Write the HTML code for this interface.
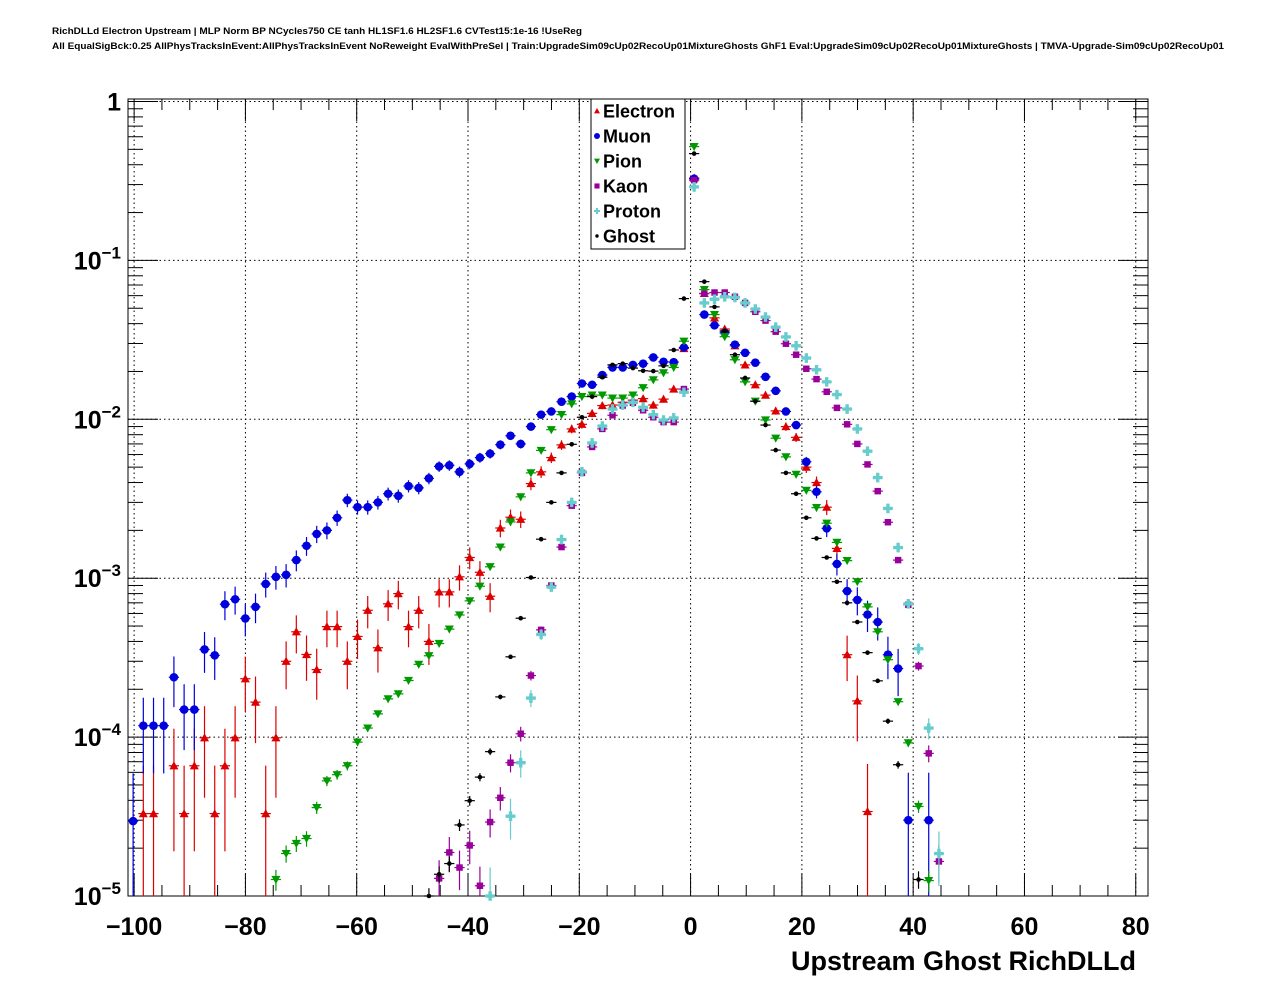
<!DOCTYPE html>
<html><head><meta charset="utf-8"><style>
html,body{margin:0;padding:0;background:#fff;}
svg{display:block;font-family:"Liberation Sans",sans-serif;}
</style></head><body>
<svg id="chart" width="1276" height="996" viewBox="0 0 1276 996" xmlns="http://www.w3.org/2000/svg">
<rect x="0" y="0" width="1276" height="996" fill="#fff"/>
<text x="52" y="34" font-size="9" font-weight="bold" textLength="530" lengthAdjust="spacingAndGlyphs">RichDLLd Electron Upstream | MLP Norm BP NCycles750 CE tanh HL1SF1.6 HL2SF1.6 CVTest15:1e-16 !UseReg</text>
<text x="52" y="49" font-size="9" font-weight="bold" textLength="1172" lengthAdjust="spacingAndGlyphs">All EqualSigBck:0.25 AllPhysTracksInEvent:AllPhysTracksInEvent NoReweight EvalWithPreSel | Train:UpgradeSim09cUp02RecoUp01MixtureGhosts GhF1 Eval:UpgradeSim09cUp02RecoUp01MixtureGhosts | TMVA-Upgrade-Sim09cUp02RecoUp01</text>
<g id="grid"></g>
<g id="axes"></g>
<g id="series"></g>
<g id="legend"></g>
<text x="1136" y="970" font-size="27" font-weight="bold" text-anchor="end">Upstream Ghost RichDLLd</text>
</svg>
<script>
// ---- data ----
const binStart = -100.18;
const binStep = 1.833;
const xTicks = [-100, -80, -60, -40, -20, 0, 20, 40, 60, 80];
const xTickLabels = ["\u2212100", "\u221280", "\u221260", "\u221240", "\u221220", "0", "20", "40", "60", "80"];
const yExponents = [0, -1, -2, -3, -4, -5];
const seriesNames = ["Electron", "Muon", "Pion", "Kaon", "Proton", "Ghost"];

const electronStart = 1;
const electronVals = [3.3e-5,3.3e-5,null,6.6e-5,3.3e-5,6.6e-5,9.9e-5,3.3e-5,6.6e-5,9.9e-5,2.33e-4,1.66e-4,3.3e-5,9.9e-5,3.0e-4,4.6e-4,3.31e-4,2.66e-4,4.96e-4,4.96e-4,3.0e-4,4.3e-4,6.28e-4,3.65e-4,6.9e-4,8.0e-4,4.96e-4,6.28e-4,4.0e-4,8.2e-4,8.2e-4,1.02e-3,1.35e-3,1.09e-3,7.7e-4,2.07e-3,2.42e-3,2.35e-3,3.94e-3,4.67e-3,5.74e-3,6.9e-3,8.7e-3,9.3e-3,0.0109,0.0122,0.0123,0.0128,0.0132,0.0135,0.0123,0.0134,0.0155,0.0279,0.33,0.062,0.0435,0.037,0.029,0.022,0.0165,0.0142,0.0113,0.009,0.0077,0.005,0.004,0.0028,0.00154,3.3e-4,1.69e-4,3.4e-5];
const muonStart = 0;
const muonVals = [2.96e-5,1.18e-4,1.18e-4,1.18e-4,2.38e-4,1.49e-4,1.49e-4,3.56e-4,3.27e-4,6.86e-4,7.37e-4,5.58e-4,6.6e-4,9.2e-4,1.02e-3,1.05e-3,1.3e-3,1.6e-3,1.9e-3,2.0e-3,2.4e-3,3.1e-3,2.8e-3,2.8e-3,3.0e-3,3.4e-3,3.3e-3,3.8e-3,3.7e-3,4.25e-3,5.05e-3,5.13e-3,4.67e-3,5.24e-3,5.74e-3,6.08e-3,6.92e-3,7.88e-3,7.0e-3,9.0e-3,0.0107,0.0112,0.0129,0.0139,0.0168,0.0165,0.019,0.0212,0.0212,0.022,0.0224,0.0245,0.023,0.0229,0.0283,0.327,0.0456,0.039,0.035,0.0295,0.0262,0.0227,0.0185,0.0151,0.0112,0.0092,0.0054,0.0035,0.00206,0.00123,8.3e-4,7.3e-4,5.9e-4,5.3e-4,3.3e-4,2.7e-4,3.0e-5,null,3.0e-5];
const pionStart = 14;
const pionVals = [1.27e-5,1.85e-5,2.14e-5,2.3e-5,3.6e-5,5.3e-5,5.8e-5,6.6e-5,9.3e-5,1.14e-4,1.4e-4,1.74e-4,1.87e-4,2.27e-4,2.87e-4,3.25e-4,3.88e-4,4.78e-4,5.87e-4,7.2e-4,8.9e-4,1.18e-3,1.57e-3,2.26e-3,3.25e-3,4.6e-3,6.37e-3,8.6e-3,0.0107,0.0125,0.0139,0.0142,0.0142,0.0136,0.0136,0.0142,0.0158,0.0177,0.0196,0.0212,0.031,0.52,0.0655,0.0456,0.0331,0.0237,0.0172,0.013,0.0099,0.0076,0.0058,0.0045,0.00357,0.00278,0.00222,0.00168,0.00129,9.5e-4,6.6e-4,4.6e-4,3.07e-4,1.67e-4,9.2e-5,3.66e-5,1.25e-5];
const kaonStart = 30;
const kaonVals = [1.29e-5,1.88e-5,1.51e-5,2.08e-5,1.16e-5,2.92e-5,4.15e-5,6.9e-5,1.05e-4,2.44e-4,4.73e-4,9e-4,1.57e-3,2.86e-3,4.6e-3,6.7e-3,8.7e-3,0.0106,0.0122,0.0127,0.0114,0.0103,0.0096,0.0096,0.0155,0.32,0.0617,0.0628,0.0628,0.059,0.054,0.0475,0.0418,0.0356,0.0299,0.0255,0.0208,0.0179,0.0149,0.0118,0.0093,0.007,0.0052,0.00353,0.00225,0.0013,6.8e-4,2.8e-4,7.9e-5,1.65e-5];
const protonStart = 35;
const protonVals = [1.0e-5,null,3.18e-5,6.9e-5,1.76e-4,4.43e-4,8.8e-4,1.75e-3,3.0e-3,4.67e-3,7.1e-3,9.06e-3,0.0116,0.0123,0.0128,0.0119,0.0107,0.0099,0.0102,0.0148,0.29,0.054,0.057,0.059,0.0585,0.054,0.0494,0.044,0.038,0.033,0.029,0.0243,0.0205,0.0172,0.0143,0.0116,0.0087,0.0063,0.0043,0.00275,0.00156,6.9e-4,3.6e-4,1.14e-4,1.85e-5];
const ghostStart = 29;
const ghostVals = [9.8e-6,1.37e-5,1.6e-5,2.8e-5,3.98e-5,5.6e-5,8.1e-5,1.79e-4,3.2e-4,5.6e-4,1.01e-3,1.76e-3,3.0e-3,4.6e-3,6.96e-3,0.0103,0.0139,0.0184,0.022,0.0224,0.021,0.0202,0.0201,0.0217,0.0273,0.0575,0.47,0.0735,0.051,0.036,0.0255,0.0182,0.013,0.0092,0.0064,0.0046,0.0034,0.0024,0.00178,0.00135,9.5e-4,7e-4,5.3e-4,3.4e-4,2.26e-4,1.26e-4,6.7e-5,null,1.27e-5];
// effective entries per series (for Poisson error bars)
const seriesEntries = [30000, 34000, 3.5e6, 8.5e5, 3.8e5, 5e6];

// ---- axes ----
const NS = "http://www.w3.org/2000/svg";
const FL = 128, FR = 1148, FT = 99, FB = 896;
const XMIN = -101.1, XMAX = 82.2;
const DEC = 158.9, Y1 = 101.5;
function xPx(v){ return FL + (v - XMIN) / (XMAX - XMIN) * (FR - FL); }
function yPx(v){ return Y1 - Math.log10(v) * DEC; }
function mk(tag, attrs, parent){ const e = document.createElementNS(NS, tag); for (const k in attrs) e.setAttribute(k, attrs[k]); parent.appendChild(e); return e; }

const grid = document.getElementById('grid');
const axes = document.getElementById('axes');
const seriesG = document.getElementById('series');
const legend = document.getElementById('legend');

xTicks.forEach(t => {
  const X = xPx(t);
  if (X > FL + 1 && X < FR - 1) {
    const l = mk('line', {x1:X, x2:X, y1:FT, y2:FB, stroke:'#000', 'stroke-width':1, 'stroke-dasharray':'1.5,3'}, grid);
    
    
  }
});
yExponents.forEach(e => {
  const Y = yPx(Math.pow(10, e));
  if (Y > FT + 1 && Y < FB - 1) {
    const l = mk('line', {x1:FL, x2:FR, y1:Y, y2:Y, stroke:'#000', 'stroke-width':1, 'stroke-dasharray':'1.5,3'}, grid);
    
    
  }
});

const frame = mk('rect', {x:FL, y:FT, width:FR-FL, height:FB-FT, fill:'none', stroke:'#000', 'stroke-width':1}, axes);



for (let v = -100; v <= 80; v += 5) {
  const X = xPx(v);
  const major = (v % 20 === 0);
  const len = major ? 22 : 11;
  const a = mk('line', {x1:X, x2:X, y1:FB, y2:FB - len, stroke:'#000', 'stroke-width':1}, axes);
  
  
  const b = mk('line', {x1:X, x2:X, y1:FT, y2:FT + len, stroke:'#000', 'stroke-width':1}, axes);
  
  
}
xTicks.forEach((t, i) => {
  const tx = mk('text', {x:xPx(t), y:935, 'font-size':25, 'font-weight':'bold', 'text-anchor':'middle'}, axes);
  tx.textContent = xTickLabels[i];
  
  
});

for (let e = -5; e <= 0; e++) {
  for (let m = 1; m <= 9; m++) {
    const v = m * Math.pow(10, e);
    if (v > 1.001) continue;
    const Y = yPx(v);
    if (Y < FT || Y > FB + 0.5) continue;
    const len = m === 1 ? 30 : 15;
    const a = mk('line', {x1:FL, x2:FL + len, y1:Y, y2:Y, stroke:'#000', 'stroke-width':1}, axes);
    
    
    const b = mk('line', {x1:FR, x2:FR - len, y1:Y, y2:Y, stroke:'#000', 'stroke-width':1}, axes);
    
    
  }
}
yExponents.forEach(e => {
  const Y = yPx(Math.pow(10, e));
  const tx = mk('text', {x:121, y:Y + 9, 'font-size':25, 'font-weight':'bold', 'text-anchor':'end'}, axes);
  
  
  if (e === 0) { tx.textContent = '1'; }
  else {
    tx.appendChild(document.createTextNode('10'));
    const sup = document.createElementNS(NS, 'tspan');
    sup.setAttribute('dy', '-11');
    sup.setAttribute('font-size', '17');
    sup.textContent = '\u2212' + (-e);
    tx.appendChild(sup);
  }
});

const colors = ['#dd0000', '#0000dd', '#009900', '#990099', '#66cccc', '#000000'];
function marker(kind, cx, cy, s, parent){
  let el;
  if (kind === 0) el = mk('polygon', {points:`${cx-s},${cy+s*0.8} ${cx+s},${cy+s*0.8} ${cx},${cy-s}`, fill:colors[0]}, parent);
  else if (kind === 1) el = mk('circle', {cx:cx, cy:cy, r:s, fill:colors[1]}, parent);
  else if (kind === 2) el = mk('polygon', {points:`${cx-s},${cy-s*0.8} ${cx+s},${cy-s*0.8} ${cx},${cy+s}`, fill:colors[2]}, parent);
  else if (kind === 3) el = mk('rect', {x:cx-s*0.85, y:cy-s*0.85, width:s*1.7, height:s*1.7, fill:colors[3]}, parent);
  else if (kind === 4) el = mk('path', {d:`M${cx-s},${cy-s*0.35}h${s*0.65}v${-s*0.65}h${s*0.7}v${s*0.65}h${s*0.65}v${s*0.7}h${-s*0.65}v${s*0.65}h${-s*0.7}v${-s*0.65}h${-s*0.65}z`, fill:colors[4]}, parent);
  else el = mk('circle', {cx:cx, cy:cy, r:s, fill:colors[5]}, parent);
  return el;
}
const markerSizes = [4.5, 4.3, 4.5, 3.8, 4.8, 2.3];

const allStarts = [electronStart, muonStart, pionStart, kaonStart, protonStart, ghostStart];
const allVals = [electronVals, muonVals, pionVals, kaonVals, protonVals, ghostVals];
const halfBinPx = (xPx(binStep) - xPx(0)) / 2;

allVals.forEach((vals, si) => {
  const g = mk('g', {}, seriesG);
  
  
  vals.forEach((v, j) => {
    if (v === null) return;
    const k = allStarts[si] + j;
    const X = xPx(binStart + binStep * k);
    const Y = yPx(v);
    if (Y > FB + 2) return;
    const err = Math.sqrt(v / seriesEntries[si]);
    const yTop = Math.max(FT, yPx(v + err));
    const lo = v - err;
    const yBot = lo > 1e-6 ? Math.min(FB, yPx(lo)) : FB;
    const eb = mk('line', {x1:X, x2:X, y1:yTop, y2:yBot, stroke:colors[si], 'stroke-width':1.2}, g);
    
    
    const hb = mk('line', {x1:X - halfBinPx, x2:X + halfBinPx, y1:Math.min(Y, FB), y2:Math.min(Y, FB), stroke:colors[si], 'stroke-width':1.2}, g);
    
    
    const m = marker(si, X, Math.min(Y, FB), markerSizes[si], g);
    
    
  });
});

const lb = mk('rect', {x:591, y:99, width:94, height:150, fill:'#fff', stroke:'#000', 'stroke-width':1}, legend);


seriesNames.forEach((n, i) => {
  const y = 111 + 25 * i;
  const lm = marker(i, 597, y, i === 5 ? 1.7 : 3, legend);
  
  
  const t = mk('text', {x:603, y:y + 6.5, 'font-size':18, 'font-weight':'bold'}, legend);
  t.textContent = n;
  
  
});
</script>
</body></html>
